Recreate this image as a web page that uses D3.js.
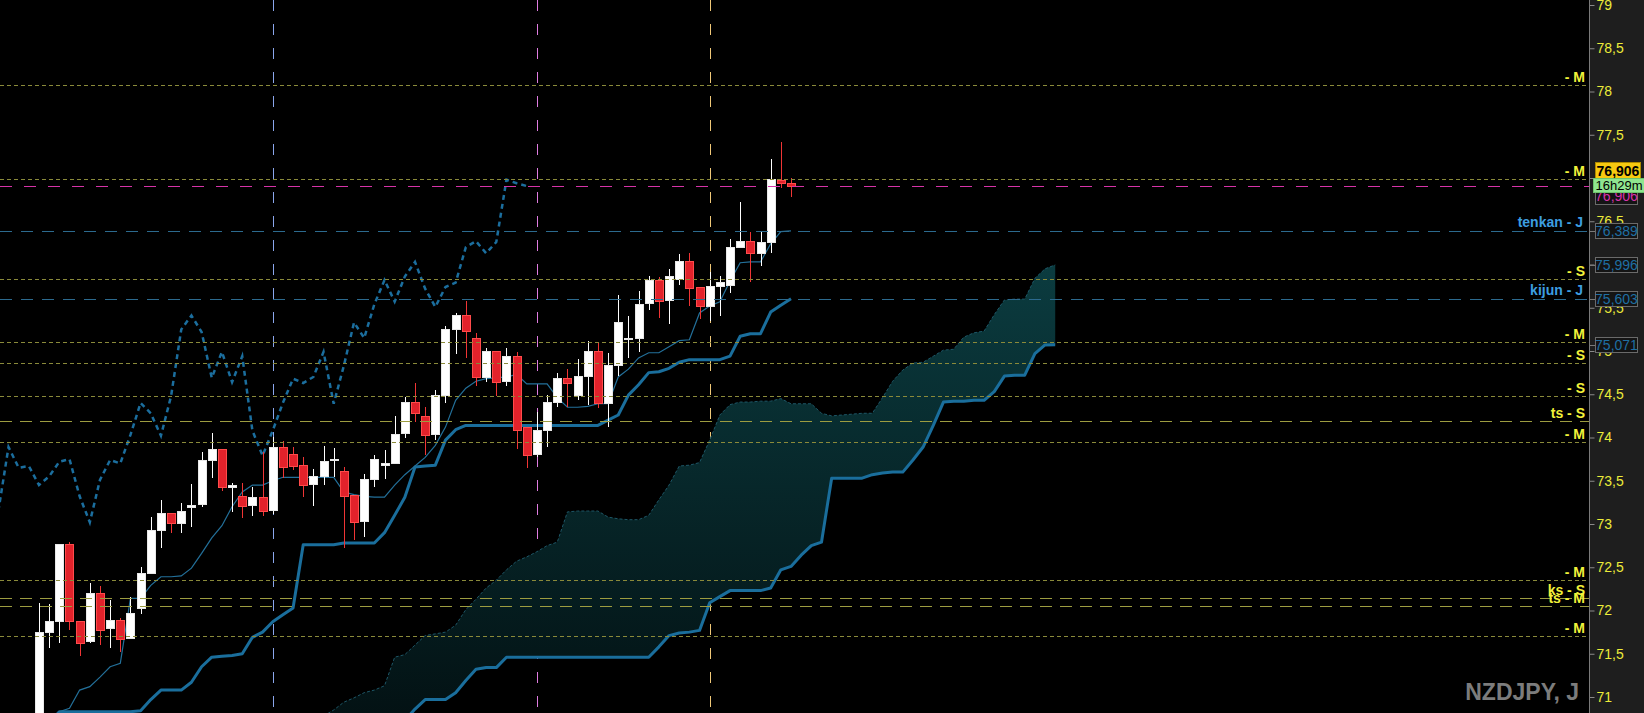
<!DOCTYPE html>
<html>
<head>
<meta charset="utf-8">
<title>NZDJPY, J</title>
<style>
  body { margin: 0; background: #000; overflow: hidden; }
  svg { display: block; font-family: "Liberation Sans", Arial, sans-serif; }
</style>
</head>
<body>
<svg id="container" width="1644" height="713"></svg>
<script src="https://cdn.jsdelivr.net/npm/d3@7/dist/d3.min.js"></script>
<script>
// candles, bar 0 .. 74
const opens = [70.75, 71.75, 71.87, 72.76, 71.87, 71.64, 72.2, 71.79, 71.88, 71.68,
  72.02, 72.43, 72.93, 73.12, 73.01, 73.2, 73.22, 73.73, 73.86, 73.43,
  73.32, 73.21, 73.31, 73.16, 73.89, 73.8, 73.68, 73.46, 73.55, 73.73,
  73.61, 73.33, 73.03, 73.51, 73.68, 73.7, 74.05, 74.4, 74.24, 74.03,
  74.49, 75.25, 75.41, 75.14, 74.69, 74.99, 74.65, 74.94, 74.12, 73.8,
  74.08, 74.4, 74.68, 74.48, 74.7, 74.99, 74.39, 74.83, 75.13, 75.14,
  75.55, 75.82, 75.58, 75.83, 76.03, 75.73, 75.52, 75.74, 75.76, 76.2,
  76.27, 76.13, 76.26, 76.97, 76.94]
const highs = [72.09, 72.08, 72.76, 72.79, 71.88, 72.32, 72.28, 72.12, 71.91, 72.16,
  72.5, 73.08, 73.28, 73.12, 73.24, 73.46, 73.83, 74.05, 73.86, 73.47,
  73.47, 73.43, 73.83, 74.01, 73.96, 73.89, 73.77, 73.64, 73.9, 73.88,
  73.66, 73.33, 73.58, 73.8, 73.86, 74.25, 74.47, 74.63, 74.35, 74.55,
  75.29, 75.44, 75.58, 75.21, 75.03, 74.99, 75.04, 74.99, 74.12, 74.29,
  74.49, 74.75, 74.79, 74.91, 75.12, 75.09, 74.98, 75.65, 75.4, 75.69,
  75.87, 75.86, 75.95, 76.12, 76.13, 75.73, 75.91, 75.87, 76.29, 76.72,
  76.38, 76.37, 77.22, 77.42, 77.0]
const lows = [70.7, 71.57, 71.62, 71.77, 71.47, 71.63, 71.6, 71.57, 71.52, 71.67,
  71.96, 72.43, 72.72, 72.9, 72.9, 72.96, 73.2, 73.53, 73.38, 73.14,
  73.07, 73.09, 73.09, 73.12, 73.53, 73.62, 73.31, 73.21, 73.45, 73.54,
  72.72, 72.82, 72.85, 73.43, 73.52, 73.69, 73.99, 74.18, 73.8, 73.97,
  74.4, 74.97, 74.92, 74.6, 74.64, 74.48, 74.6, 73.87, 73.65, 73.77,
  73.89, 74.35, 74.35, 74.43, 74.38, 74.34, 74.12, 74.71, 74.92, 74.99,
  75.47, 75.38, 75.31, 75.76, 75.52, 75.37, 75.35, 75.4, 75.67, 76.19,
  75.8, 75.98, 76.13, 76.88, 76.78]
const closes = [71.75, 71.87, 72.76, 71.87, 71.62, 72.2, 71.77, 71.89, 71.67, 71.97,
  72.43, 72.93, 73.12, 73.01, 73.15, 73.21, 73.73, 73.86, 73.42, 73.44,
  73.2, 73.31, 73.15, 73.89, 73.65, 73.67, 73.45, 73.55, 73.72, 73.75,
  73.32, 73.02, 73.51, 73.74, 73.7, 74.03, 74.4, 74.28, 74.02, 74.48,
  75.25, 75.41, 75.22, 74.69, 74.99, 74.64, 74.94, 74.08, 73.79, 74.08,
  74.4, 74.68, 74.63, 74.7, 74.99, 74.39, 74.83, 75.33, 75.15, 75.54,
  75.82, 75.57, 75.86, 76.03, 75.72, 75.51, 75.74, 75.79, 76.2, 76.27,
  76.13, 76.26, 76.98, 76.94, 76.906]

// ichimoku lines, bar 0 .. 74
const tenkan = [70.6, 70.7, 70.83, 70.87, 71.08, 71.12, 71.23, 71.35, 71.39, 72.14,
  72.14, 72.29, 72.39, 72.39, 72.4, 72.49, 72.66, 72.84, 72.98, 73.2,
  73.37, 73.45, 73.45, 73.5, 73.54, 73.54, 73.54, 73.54, 73.54, 73.54,
  73.37, 73.34, 73.32, 73.31, 73.31, 73.45, 73.57, 73.67, 73.77, 73.91,
  74.12, 74.43, 74.57, 74.65, 74.68, 74.69, 74.7, 74.73, 74.62, 74.62,
  74.62, 74.46, 74.35, 74.35, 74.36, 74.39, 74.39, 74.7, 74.79, 74.92,
  74.98, 74.98, 75.05, 75.12, 75.13, 75.44, 75.52, 75.57, 75.81, 76.02,
  76.03, 76.03, 76.24, 76.38, 76.389]
const kijun = [70.6, 70.7, 70.83, 70.83, 70.83, 70.83, 70.83, 70.83, 70.83, 70.83,
  70.84, 70.97, 71.08, 71.08, 71.08, 71.17, 71.35, 71.46, 71.47, 71.48,
  71.5, 71.69, 71.75, 71.87, 71.95, 72.03, 72.76, 72.76, 72.76, 72.76,
  72.78, 72.78, 72.78, 72.78, 72.9, 73.1, 73.31, 73.66, 73.67, 73.68,
  73.97, 74.09, 74.14, 74.14, 74.14, 74.14, 74.14, 74.14, 74.14, 74.14,
  74.14, 74.14, 74.14, 74.14, 74.14, 74.14, 74.2, 74.26, 74.49, 74.61,
  74.75, 74.76, 74.8, 74.87, 74.9, 74.9, 74.9, 74.9, 74.94, 75.17,
  75.2, 75.2, 75.45, 75.53, 75.603]

// cloud, bar 28 .. 100 (26 bars ahead of the last candle)
const cloudStart = 28
const senkouA = [70.78, 70.85, 70.94, 70.99, 71.05, 71.08, 71.13, 71.46, 71.49, 71.6,
  71.71, 71.73, 71.75, 71.83, 72.01, 72.13, 72.26, 72.35, 72.47, 72.57,
  72.62, 72.68, 72.75, 72.79, 73.14, 73.15, 73.15, 73.15, 73.08, 73.06,
  73.05, 73.05, 73.1, 73.28, 73.45, 73.67, 73.68, 73.71, 73.97, 74.26,
  74.38, 74.41, 74.41, 74.42, 74.42, 74.45, 74.39, 74.39, 74.39, 74.28,
  74.25, 74.26, 74.27, 74.28, 74.28, 74.46, 74.65, 74.78, 74.86, 74.87,
  74.94, 75.01, 75.02, 75.16, 75.21, 75.23, 75.42, 75.59, 75.6, 75.6,
  75.84, 75.95, 75.996]
const senkouB = [70.3, 70.35, 70.4, 70.45, 70.5, 70.55, 70.6, 70.65, 70.73, 70.86,
  70.97, 70.97, 70.97, 71.05, 71.19, 71.32, 71.34, 71.34, 71.46, 71.46,
  71.46, 71.46, 71.46, 71.46, 71.46, 71.46, 71.46, 71.46, 71.46, 71.46,
  71.46, 71.46, 71.46, 71.58, 71.71, 71.74, 71.75, 71.77, 72.09, 72.16,
  72.23, 72.23, 72.23, 72.23, 72.26, 72.47, 72.51, 72.64, 72.75, 72.79,
  73.53, 73.53, 73.53, 73.53, 73.57, 73.59, 73.6, 73.6, 73.74, 73.89,
  74.14, 74.41, 74.42, 74.42, 74.43, 74.43, 74.53, 74.71, 74.72, 74.72,
  74.97, 75.07, 75.071]

// lagging span, bar -4 .. 48
const chikouStart = -4
const chikou = [73.15, 73.89, 73.65, 73.67, 73.45, 73.55, 73.72, 73.75, 73.32, 73.02,
  73.51, 73.74, 73.7, 74.03, 74.4, 74.28, 74.02, 74.48, 75.25, 75.41,
  75.22, 74.69, 74.99, 74.64, 74.94, 74.08, 73.79, 74.08, 74.4, 74.68,
  74.63, 74.7, 74.99, 74.39, 74.83, 75.33, 75.15, 75.54, 75.82, 75.57,
  75.86, 76.03, 75.72, 75.51, 75.74, 75.79, 76.2, 76.27, 76.13, 76.26,
  76.98, 76.94, 76.906]

// horizontal levels
const levelPrices = [78.075, 76.988, 75.832, 75.104, 74.861, 74.48, 73.948, 72.353, 71.705]
const levelLabels = ["M", "M", "S", "M", "S", "S", "M", "M", "M"]
const tsPrices = [74.191, 72.145, 72.052]
const tsLabels = ["ts - S", "ks - S", "ts - M"]
const jPrices = [76.389, 75.603]
const jLabels = ["tenkan - J", "kijun - J"]
const bidPrice = 76.906
const boxPrices = [76.389, 75.996, 75.603, 75.071]
const timerText = "16h29m"

// vertical separators (bar index)
const vBars = [23, 49, 66]
const vColors = ["#8aa6ec", "#e07ce0", "#f0c878"]

const tickValues = d3.range(71, 79.001, 0.5)

let container = d3.select("#container")
const W = 1644, H = 713, axisX = 1589

let x = d3.scaleLinear().domain([0, 74]).range([39, 791])
let y = d3.scaleLinear().domain([71, 79]).range([697, 5])
let fmt = v => d3.format(".3f")(v).replace(".", ",")

container.append("rect").attr("width", W).attr("height", H).attr("fill", "#000")

let defs = container.append("defs")
defs.append("clipPath").attr("id", "plot")
	.append("rect").attr("width", axisX).attr("height", H)
let grad = defs.append("linearGradient").attr("id", "kumo")
	.attr("gradientUnits", "userSpaceOnUse")
	.attr("x1", 0).attr("x2", 0).attr("y1", 260).attr("y2", 713)
grad.append("stop").attr("offset", "0").attr("stop-color", "#0b3c40")
grad.append("stop").attr("offset", "1").attr("stop-color", "#031214")

let plot = container.append("g").attr("clip-path", "url(#plot)")

// vertical dashed lines (behind everything)
plot.selectAll(".vline").data(vBars).enter()
	.append("line")
	.attr("x1", d => Math.round(x(d)) + 0.5).attr("x2", d => Math.round(x(d)) + 0.5)
	.attr("y1", 0).attr("y2", H)
	.attr("stroke", (d, i) => vColors[i])
	.attr("stroke-dasharray", "11,13")

// cloud
let cloudIdx = senkouA.map((d, i) => i + cloudStart)
plot.append("path")
	.datum(cloudIdx)
	.attr("fill", "url(#kumo)")
	.attr("d", d3.area()
		.x(i => x(i))
		.y0(i => y(senkouB[i - cloudStart]))
		.y1(i => y(senkouA[i - cloudStart])))
plot.append("path")
	.datum(cloudIdx)
	.attr("fill", "none").attr("stroke", "#1d5666").attr("stroke-width", 1)
	.attr("stroke-dasharray", "3,2")
	.attr("d", d3.line().x(i => x(i)).y(i => y(senkouA[i - cloudStart])))
plot.append("path")
	.datum(cloudIdx)
	.attr("fill", "none").attr("stroke", "#1a6e9c").attr("stroke-width", 3)
	.attr("stroke-linejoin", "round")
	.attr("d", d3.line().x(i => x(i)).y(i => y(senkouB[i - cloudStart])))

// kijun, tenkan, chikou
plot.append("path")
	.datum(kijun)
	.attr("fill", "none").attr("stroke", "#1a6e9c").attr("stroke-width", 3)
	.attr("stroke-linejoin", "round")
	.attr("d", d3.line().x((d, i) => x(i)).y(d => y(d)))
plot.append("path")
	.datum(tenkan)
	.attr("fill", "none").attr("stroke", "#23709a").attr("stroke-width", 1.2)
	.attr("d", d3.line().x((d, i) => x(i)).y(d => y(d)))
plot.append("path")
	.datum(chikou)
	.attr("fill", "none").attr("stroke", "#1b6e9e").attr("stroke-width", 2.5)
	.attr("stroke-dasharray", "5,4")
	.attr("d", d3.line().x((d, i) => x(i + chikouStart)).y(d => y(d)))

// candles
let candles = plot.selectAll(".candle").data(closes).enter()
	.append("g").attr("shape-rendering", "crispEdges")
candles.append("line")
	.attr("x1", (d, i) => Math.round(x(i)) + 0.5).attr("x2", (d, i) => Math.round(x(i)) + 0.5)
	.attr("y1", (d, i) => y(highs[i])).attr("y2", (d, i) => y(lows[i]))
	.attr("stroke", (d, i) => d >= opens[i] ? "#ffffff" : "#f03535")
candles.append("rect")
	.attr("x", (d, i) => Math.round(x(i)) - 3.5)
	.attr("width", 8)
	.attr("y", (d, i) => y(Math.max(d, opens[i])))
	.attr("height", (d, i) => Math.max(1.5, Math.abs(y(d) - y(opens[i]))))
	.attr("fill", (d, i) => d >= opens[i] ? "#ffffff" : "#e2222b")
	.attr("stroke", (d, i) => d >= opens[i] ? "#e8e8e8" : "#ff4b4b")
	.attr("stroke-width", 1)

// horizontal levels (drawn over the candles)
plot.selectAll(".lvl").data(levelPrices).enter()
	.append("line")
	.attr("x1", 0).attr("x2", axisX)
	.attr("y1", d => Math.round(y(d)) + 0.5).attr("y2", d => Math.round(y(d)) + 0.5)
	.attr("stroke", "#8a8a3a").attr("stroke-dasharray", "4,3")
plot.selectAll(".ts").data(tsPrices).enter()
	.append("line")
	.attr("x1", 0).attr("x2", axisX)
	.attr("y1", d => Math.round(y(d)) + 0.5).attr("y2", d => Math.round(y(d)) + 0.5)
	.attr("stroke", "#9c9c40").attr("stroke-dasharray", "12,8")
plot.selectAll(".jl").data(jPrices).enter()
	.append("line")
	.attr("x1", 0).attr("x2", axisX)
	.attr("y1", d => Math.round(y(d)) + 0.5).attr("y2", d => Math.round(y(d)) + 0.5)
	.attr("stroke", "#2c6a8e").attr("stroke-dasharray", "12,9")
plot.append("line")
	.attr("x1", 0).attr("x2", axisX)
	.attr("y1", Math.round(y(bidPrice)) + 0.5).attr("y2", Math.round(y(bidPrice)) + 0.5)
	.attr("stroke", "#d633a8").attr("stroke-dasharray", "12,12")

// level labels
let labels = container.append("g")
	.attr("font-weight", "bold").attr("font-size", 14).attr("text-anchor", "end")
labels.selectAll(".lt").data(levelPrices).enter()
	.append("text")
	.attr("x", 1585).attr("y", d => y(d) - 3)
	.attr("fill", "#f2f23a")
	.text((d, i) => "- " + levelLabels[i])
labels.selectAll(".tt").data(tsPrices).enter()
	.append("text")
	.attr("x", 1585).attr("y", d => y(d) - 3)
	.attr("fill", "#f2f23a")
	.text((d, i) => tsLabels[i])
labels.selectAll(".jt").data(jPrices).enter()
	.append("text")
	.attr("x", 1583).attr("y", d => y(d) - 4)
	.attr("fill", "#3d9ee0")
	.text((d, i) => jLabels[i])

container.append("text")
	.attr("x", 1579).attr("y", 700)
	.attr("text-anchor", "end")
	.attr("font-weight", "bold").attr("font-size", 23)
	.attr("fill", "#7c7c7c")
	.text("NZDJPY, J")

// price axis
container.append("rect")
	.attr("x", axisX).attr("width", W - axisX).attr("height", H)
	.attr("fill", "#1e1e1e")
let axis = container.append("g")
	.attr("transform", "translate(" + (axisX + 0.5) + ",0)")
	.call(d3.axisRight(y).tickValues(tickValues).tickSize(5).tickPadding(2)
		.tickFormat(d => String(d).replace(".", ",")))
axis.select(".domain").remove()
axis.selectAll(".tick line").attr("stroke", "#8a8a8a")
axis.selectAll(".tick text")
	.attr("fill", "#ecec3a").attr("font-size", 14)
	.attr("font-family", "Liberation Sans, Arial, sans-serif")
container.append("line")
	.attr("x1", axisX + 0.5).attr("x2", axisX + 0.5).attr("y1", 0).attr("y2", H)
	.attr("stroke", "#7a7a7a")

// value boxes on the axis
let boxes = container.selectAll(".vbox").data(boxPrices).enter().append("g")
boxes.append("line")
	.attr("x1", axisX).attr("x2", 1596)
	.attr("y1", d => Math.round(y(d)) + 0.5).attr("y2", d => Math.round(y(d)) + 0.5)
	.attr("stroke", "#7a7a7a")
boxes.append("rect")
	.attr("x", 1595.5).attr("width", 42).attr("y", d => Math.round(y(d)) - 7.5).attr("height", 15)
	.attr("fill", "#141414").attr("stroke", "#6a6a6a")
boxes.append("text")
	.attr("x", 1616.5).attr("y", d => Math.round(y(d)) + 5)
	.attr("text-anchor", "middle").attr("font-size", 14)
	.attr("fill", "#1f6fa3")
	.text(d => fmt(d))

// bid / timer labels
let by = Math.round(y(bidPrice))
container.append("rect")
	.attr("x", 1595.5).attr("width", 42).attr("y", by + 3.5).attr("height", 15)
	.attr("fill", "#141414").attr("stroke", "#6a6a6a")
container.append("text")
	.attr("x", 1616.5).attr("y", by + 15).attr("text-anchor", "middle").attr("font-size", 14)
	.attr("fill", "#d633a8").text(fmt(bidPrice))
container.append("rect")
	.attr("x", 1595.5).attr("width", 45).attr("y", by - 23.5).attr("height", 16)
	.attr("fill", "#f7c910").attr("stroke", "#b08a00")
container.append("text")
	.attr("x", 1618).attr("y", by - 10).attr("text-anchor", "middle")
	.attr("font-size", 14).attr("font-weight", "bold")
	.attr("fill", "#000").text(fmt(bidPrice))
container.append("rect")
	.attr("x", 1593.5).attr("width", 51).attr("y", by - 7.5).attr("height", 14)
	.attr("fill", "#8fe58f").attr("stroke", "#6cc46c")
container.append("text")
	.attr("x", 1619).attr("y", by + 4).attr("text-anchor", "middle")
	.attr("font-size", 13).attr("fill", "#000").text(timerText)
</script>
</body>
</html>
